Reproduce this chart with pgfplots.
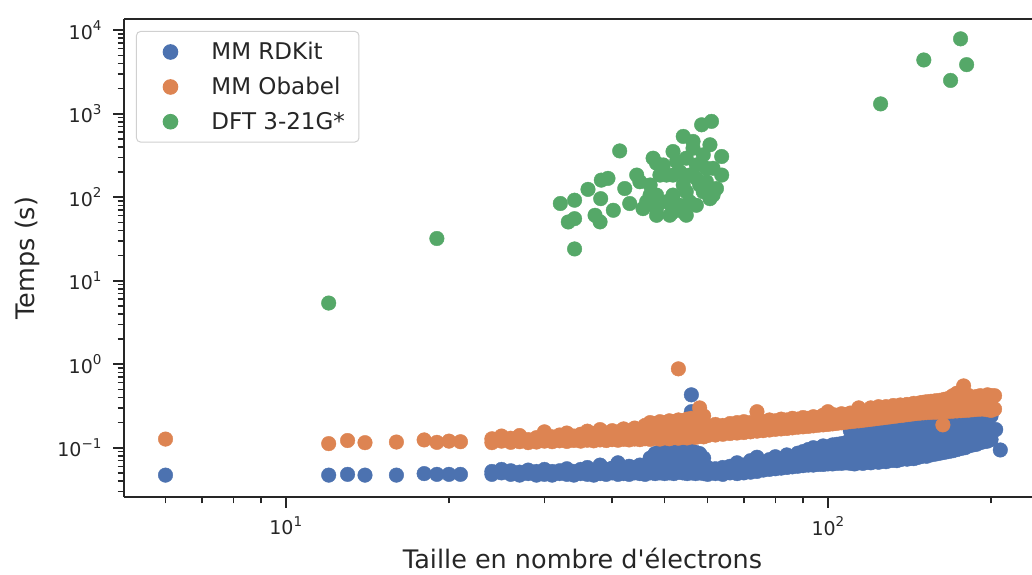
\documentclass[border=0pt]{standalone}
\usepackage{fontspec}
\setmainfont{DejaVu Sans}
\usepackage{pgfplots}
\pgfplotsset{compat=1.18}
\definecolor{sbblue}{HTML}{4C72B0}
\definecolor{sborange}{HTML}{DD8452}
\definecolor{sbgreen}{HTML}{55A868}
\definecolor{txt}{HTML}{262626}
\definecolor{lgray}{HTML}{D0D0D0}
\newcommand{\tp}[1]{10\raisebox{0.45em}{\fontsize{13.5}{14}\selectfont #1}}
\begin{document}
\begin{tikzpicture}
\useasboundingbox (-124pt,-77pt) rectangle (908pt,497pt);
\begin{axis}[
  at={(0pt,0pt)}, anchor=south west,
  width=908pt, height=478pt, scale only axis,
  xmode=log, ymode=log,
  xmin=5.03, xmax=238, ymin=0.0257, ymax=13600,
  axis x line=box, axis y line=left,
  axis line style={-, line width=2.2pt, color=txt},
  xtick pos=left, ytick pos=left, tick align=outside,
  major tick length=11pt, minor tick length=6.5pt,
  every major tick/.style={line width=2pt, color=txt},
  every minor tick/.style={line width=1.5pt, color=txt},
  xtick={10,100}, xticklabels={\tp{1},\tp{2}},
  minor xtick={6,7,8,9,20,30,40,50,60,70,80,90,200},
  ytick={0.1,1,10,100,1000,10000},
  yticklabels={\tp{−1},\tp{0},\tp{1},\tp{2},\tp{3},\tp{4}},
  minor ytick={0.03,0.04,0.05,0.06,0.07,0.08,0.09,0.2,0.3,0.4,0.5,0.6,0.7,0.8,0.9,2,3,4,5,6,7,8,9,20,30,40,50,60,70,80,90,200,300,400,500,600,700,800,900,2000,3000,4000,5000,6000,7000,8000,9000},
  tick label style={font=\fontsize{19}{22}\selectfont, color=txt},
  xticklabel style={yshift=-5pt},
  yticklabel style={xshift=-8pt},
  xlabel={Taille en nombre d\textquotesingle électrons}, ylabel={Temps (s)},
  label style={font=\fontsize{25.5}{30}\selectfont, color=txt, inner sep=0pt},
  xlabel style={at={(axis description cs:0.505,0)}, anchor=base, yshift=-71pt},
  ylabel style={at={(axis description cs:-0.1068,0.5)}, anchor=center},
  legend style={at={(axis description cs:0.0132,0.9749)}, anchor=north west, draw=lgray, line width=1pt, rounded corners=4pt, fill=white, fill opacity=0.8, text opacity=1, font=\fontsize{23}{27}\selectfont, text=txt, inner xsep=12pt, inner ysep=9pt, row sep=12pt},
  legend cell align=left,
  legend image code/.code={\path[draw=none,fill=none] (0pt,-6pt) rectangle (61pt,6pt); \draw[#1,fill opacity=1,draw opacity=1] plot coordinates {(22pt,0pt)};},
]
\addplot[only marks, mark=*, mark size=7.3pt, color=sbblue, mark options={fill=sbblue, draw=none}] table[row sep=\\] {
x y\\
6 0.047\\ 12 0.047\\ 13 0.048\\ 14 0.047\\ 16 0.047\\ 18 0.049\\ 19 0.048\\ 20 0.048\\ 21 0.048\\
24 0.048\\ 24 0.052\\ 25 0.050\\ 25 0.055\\ 26 0.048\\ 26 0.053\\ 27 0.047\\ 27 0.051\\ 28 0.049\\ 28 0.054\\
29 0.047\\ 29 0.052\\ 30 0.048\\ 30 0.055\\ 31 0.047\\ 31 0.052\\ 32 0.049\\ 32 0.053\\ 33 0.048\\ 33 0.056\\
34 0.047\\ 34 0.052\\ 35 0.049\\ 35 0.055\\ 36 0.048\\ 36 0.058\\ 37 0.047\\ 37 0.053\\ 38 0.049\\ 38 0.062\\
39 0.048\\ 39 0.055\\ 40 0.050\\ 40 0.057\\ 41 0.048\\ 41 0.066\\ 42 0.049\\ 42 0.056\\ 43 0.048\\ 43 0.060\\
44 0.050\\ 44 0.058\\ 45 0.049\\ 45 0.062\\ 46 0.048\\ 46 0.060\\
47 0.050\\ 47 0.062\\ 47 0.075\\ 48 0.049\\ 48 0.066\\ 48 0.085\\ 49 0.050\\ 49 0.070\\ 49 0.090\\
50 0.049\\ 50 0.064\\ 50 0.088\\ 51 0.050\\ 51 0.072\\ 51 0.094\\ 52 0.049\\ 52 0.068\\ 52 0.090\\
53 0.051\\ 53 0.065\\ 53 0.092\\ 54 0.050\\ 54 0.070\\ 54 0.095\\ 55 0.049\\ 55 0.066\\ 55 0.090\\
56 0.050\\ 56 0.068\\ 56 0.092\\ 56 0.27\\ 56 0.43\\ 57 0.049\\ 57 0.065\\ 57 0.088\\ 58 0.050\\ 58 0.070\\ 58 0.085\\
59 0.049\\ 59 0.060\\ 59 0.075\\
60 0.048\\ 60 0.058\\ 62 0.049\\ 62 0.056\\ 64 0.048\\ 64 0.058\\ 66 0.050\\ 66 0.060\\ 68 0.049\\ 68 0.066\\
70 0.050\\ 70 0.062\\ 72 0.051\\ 72 0.070\\ 74 0.052\\ 74 0.060\\ 74 0.077\\ 76 0.054\\ 76 0.066\\ 78 0.055\\ 78 0.072\\
80 0.056\\ 80 0.064\\ 80 0.078\\ 82 0.057\\ 82 0.070\\ 84 0.058\\ 84 0.066\\ 84 0.082\\ 86 0.059\\ 86 0.074\\
88 0.060\\ 88 0.068\\ 88 0.086\\ 90 0.061\\ 90 0.076\\ 90 0.090\\ 92 0.062\\ 92 0.070\\ 92 0.095\\
94 0.062\\ 94 0.080\\ 94 0.100\\ 96 0.063\\ 96 0.074\\ 96 0.098\\ 98 0.063\\ 98 0.082\\ 98 0.105\\
100 0.064\\ 100 0.076\\ 100 0.102\\ 102 0.064\\ 102 0.084\\ 102 0.108\\ 104 0.065\\ 104 0.080\\ 104 0.110\\
106 0.065\\ 106 0.086\\ 106 0.112\\ 108 0.066\\ 108 0.082\\ 108 0.115\\
110 0.065\\ 110 0.090\\ 110 0.125\\ 110 0.16\\ 112 0.064\\ 112 0.085\\ 112 0.120\\ 112 0.16\\
114 0.066\\ 114 0.095\\ 114 0.130\\ 114 0.165\\ 116 0.065\\ 116 0.088\\ 116 0.125\\ 116 0.17\\
118 0.067\\ 118 0.098\\ 118 0.135\\ 118 0.165\\ 120 0.066\\ 120 0.090\\ 120 0.128\\ 120 0.17\\
122 0.068\\ 122 0.100\\ 122 0.140\\ 122 0.175\\ 124 0.067\\ 124 0.092\\ 124 0.130\\ 124 0.18\\
126 0.069\\ 126 0.102\\ 126 0.145\\ 126 0.18\\ 128 0.068\\ 128 0.095\\ 128 0.135\\ 128 0.185\\
130 0.070\\ 130 0.105\\ 130 0.150\\ 130 0.19\\ 132 0.071\\ 132 0.098\\ 132 0.140\\ 132 0.19\\
134 0.070\\ 134 0.108\\ 134 0.155\\ 134 0.195\\ 136 0.072\\ 136 0.100\\ 136 0.145\\ 136 0.20\\
138 0.074\\ 138 0.110\\ 138 0.160\\ 138 0.20\\ 140 0.073\\ 140 0.104\\ 140 0.150\\ 140 0.205\\
142 0.075\\ 142 0.112\\ 142 0.165\\ 142 0.21\\ 144 0.074\\ 144 0.106\\ 144 0.155\\ 144 0.21\\
146 0.076\\ 146 0.115\\ 146 0.170\\ 146 0.215\\ 148 0.078\\ 148 0.108\\ 148 0.160\\ 148 0.22\\
150 0.080\\ 150 0.118\\ 150 0.175\\ 150 0.22\\ 152 0.079\\ 152 0.112\\ 152 0.165\\ 152 0.225\\
155 0.082\\ 155 0.120\\ 155 0.180\\ 155 0.23\\ 158 0.084\\ 158 0.115\\ 158 0.170\\ 158 0.235\\
161 0.086\\ 161 0.125\\ 161 0.185\\ 161 0.24\\ 164 0.088\\ 164 0.120\\ 164 0.175\\ 164 0.245\\
167 0.090\\ 167 0.130\\ 167 0.190\\ 167 0.25\\ 170 0.092\\ 170 0.125\\ 170 0.180\\ 170 0.255\\
173 0.095\\ 173 0.135\\ 173 0.195\\ 173 0.26\\ 176 0.098\\ 176 0.130\\ 176 0.185\\ 176 0.265\\
179 0.100\\ 179 0.140\\ 179 0.200\\ 179 0.27\\ 182 0.105\\ 182 0.135\\ 182 0.190\\ 182 0.275\\
185 0.108\\ 185 0.145\\ 185 0.205\\ 185 0.28\\ 188 0.110\\ 188 0.140\\ 188 0.195\\ 188 0.285\\
191 0.115\\ 191 0.150\\ 191 0.210\\ 191 0.29\\ 194 0.118\\ 194 0.155\\ 194 0.200\\ 194 0.30\\
197 0.120\\ 197 0.160\\ 197 0.220\\ 197 0.28\\ 200 0.125\\ 200 0.170\\ 200 0.240\\ 200 0.29\\
204 0.165\\ 208 0.094\\
};
\addlegendentry{MM RDKit}
\addplot[only marks, mark=*, mark size=7.3pt, color=sborange, mark options={fill=sborange, draw=none}] table[row sep=\\] {
x y\\
6 0.127\\ 12 0.112\\ 13 0.122\\ 14 0.115\\ 16 0.117\\ 18 0.124\\ 19 0.116\\ 20 0.120\\ 21 0.118\\
24 0.115\\ 24 0.128\\ 25 0.120\\ 25 0.138\\ 26 0.116\\ 26 0.130\\ 27 0.118\\ 27 0.140\\ 28 0.115\\ 28 0.125\\
29 0.117\\ 29 0.132\\ 30 0.120\\ 30 0.155\\ 31 0.118\\ 31 0.135\\ 32 0.121\\ 32 0.142\\ 33 0.119\\ 33 0.150\\
34 0.122\\ 34 0.138\\ 35 0.120\\ 35 0.145\\ 36 0.123\\ 36 0.158\\ 37 0.121\\ 37 0.148\\ 38 0.124\\ 38 0.165\\
39 0.122\\ 39 0.150\\ 40 0.125\\ 40 0.160\\ 41 0.123\\ 41 0.155\\ 42 0.126\\ 42 0.168\\ 43 0.124\\ 43 0.158\\
44 0.127\\ 44 0.172\\ 45 0.125\\ 45 0.165\\ 46 0.128\\ 46 0.185\\
47 0.126\\ 47 0.150\\ 47 0.200\\ 48 0.130\\ 48 0.165\\ 48 0.195\\ 49 0.127\\ 49 0.155\\ 49 0.205\\
50 0.131\\ 50 0.170\\ 50 0.200\\ 51 0.128\\ 51 0.160\\ 51 0.210\\ 52 0.132\\ 52 0.175\\ 52 0.205\\
53 0.130\\ 53 0.165\\ 53 0.215\\ 53 0.88\\ 54 0.133\\ 54 0.180\\ 54 0.210\\ 55 0.131\\ 55 0.168\\ 55 0.220\\
56 0.135\\ 56 0.185\\ 56 0.225\\ 57 0.133\\ 57 0.170\\ 57 0.215\\ 58 0.137\\ 58 0.190\\ 58 0.300\\
59 0.135\\ 59 0.175\\ 59 0.240\\
60 0.140\\ 60 0.180\\ 62 0.142\\ 62 0.190\\ 64 0.145\\ 64 0.185\\ 66 0.148\\ 66 0.195\\ 68 0.150\\ 68 0.200\\
70 0.152\\ 70 0.205\\ 72 0.155\\ 72 0.200\\ 74 0.158\\ 74 0.210\\ 74 0.270\\ 76 0.160\\ 76 0.205\\
78 0.163\\ 78 0.215\\ 80 0.166\\ 80 0.210\\ 82 0.168\\ 82 0.220\\ 84 0.170\\ 84 0.215\\ 86 0.173\\ 86 0.225\\
88 0.176\\ 88 0.220\\ 90 0.178\\ 90 0.230\\ 92 0.180\\ 92 0.225\\ 94 0.183\\ 94 0.235\\ 96 0.186\\ 96 0.230\\
98 0.188\\ 98 0.245\\ 100 0.190\\ 100 0.240\\ 100 0.270\\ 102 0.193\\ 102 0.250\\ 104 0.196\\ 104 0.245\\
106 0.199\\ 106 0.255\\ 108 0.202\\ 108 0.250\\ 110 0.205\\ 110 0.260\\ 112 0.208\\ 112 0.255\\
114 0.210\\ 114 0.265\\ 114 0.300\\ 116 0.213\\ 116 0.260\\ 118 0.216\\ 118 0.270\\
120 0.219\\ 120 0.265\\ 120 0.300\\ 122 0.222\\ 122 0.275\\ 124 0.225\\ 124 0.270\\ 124 0.310\\
126 0.228\\ 126 0.280\\ 128 0.231\\ 128 0.275\\ 128 0.310\\ 130 0.234\\ 130 0.285\\
132 0.237\\ 132 0.280\\ 132 0.320\\ 134 0.240\\ 134 0.290\\ 136 0.243\\ 136 0.285\\ 136 0.325\\
138 0.246\\ 138 0.295\\ 140 0.249\\ 140 0.290\\ 140 0.330\\ 142 0.252\\ 142 0.300\\
144 0.255\\ 144 0.295\\ 144 0.340\\ 146 0.258\\ 146 0.305\\ 148 0.260\\ 148 0.300\\ 148 0.345\\
150 0.262\\ 150 0.310\\ 150 0.350\\ 152 0.263\\ 152 0.305\\ 152 0.355\\ 155 0.265\\ 155 0.315\\ 155 0.360\\
158 0.266\\ 158 0.320\\ 158 0.365\\ 161 0.268\\ 161 0.325\\ 161 0.370\\ 163 0.188\\
164 0.270\\ 164 0.330\\ 164 0.380\\ 167 0.272\\ 167 0.335\\ 167 0.390\\ 170 0.274\\ 170 0.340\\ 170 0.420\\
173 0.276\\ 173 0.345\\ 173 0.450\\ 176 0.278\\ 176 0.350\\ 176 0.400\\ 178 0.55\\
179 0.280\\ 179 0.355\\ 179 0.410\\ 182 0.282\\ 182 0.360\\ 182 0.420\\ 185 0.285\\ 185 0.365\\ 185 0.400\\
188 0.288\\ 188 0.370\\ 188 0.410\\ 191 0.290\\ 191 0.360\\ 191 0.420\\ 194 0.290\\ 194 0.350\\ 194 0.400\\
197 0.285\\ 197 0.340\\ 197 0.430\\ 200 0.280\\ 200 0.330\\ 200 0.420\\ 203 0.290\\ 203 0.420\\
};
\addlegendentry{MM Obabel}
\addplot[only marks, mark=*, mark size=7.3pt, color=sbgreen, mark options={fill=sbgreen, draw=none}] table[row sep=\\] {
x y\\
12 5.4\\ 19 32\\ 34.1 24\\ 32.1 84\\ 34.1 92\\ 33.2 50.5\\ 34.1 55.3\\ 36.1 124\\ 38.2 160\\ 39.3 168\\
38.1 96\\ 37.2 60.7\\ 38 50.6\\ 40.2 69.7\\ 41.3 358\\ 42.2 127\\ 43.1 84\\ 44.4 184\\ 48.3 255\\ 48.3 60.7\\
45.6 73\\ 51.8 66.7\\ 54.1 66.7\\ 51.8 352\\ 54.1 534\\ 58.5 736\\ 61 809\\ 63.7 307\\ 63.7 184\\ 61.4 106\\ 57.2 80\\
47.6 293\\ 49.7 243\\ 50.4 184\\ 52.6 267\\ 53.3 202\\ 54.8 293\\ 55.6 184\\ 56.4 386\\ 57.2 243\\ 58.9 321\\
59.7 222\\ 59.7 153\\ 60.6 424\\ 58.0 140\\ 54.8 116\\ 51.8 106\\ 50.4 88\\ 48.3 106\\ 47.0 140\\ 45.0 153\\
55.6 88\\ 53.3 80\\ 58.9 116\\ 61.4 222\\ 56.4 465\\ 49.0 184\\ 51.8 184\\ 54.1 140\\ 57.2 168\\ 62.3 127\\
60.6 96\\ 51.1 60.8\\ 54.8 60.8\\ 51.8 73\\ 47.0 106\\ 46.3 88\\ 48.3 73\\
125.1 1309\\ 150.3 4395\\ 175.7 7870\\ 180.3 3864\\ 168.4 2500\\
};
\addlegendentry{DFT 3-21G*}
\end{axis}
\end{tikzpicture}
\end{document}
